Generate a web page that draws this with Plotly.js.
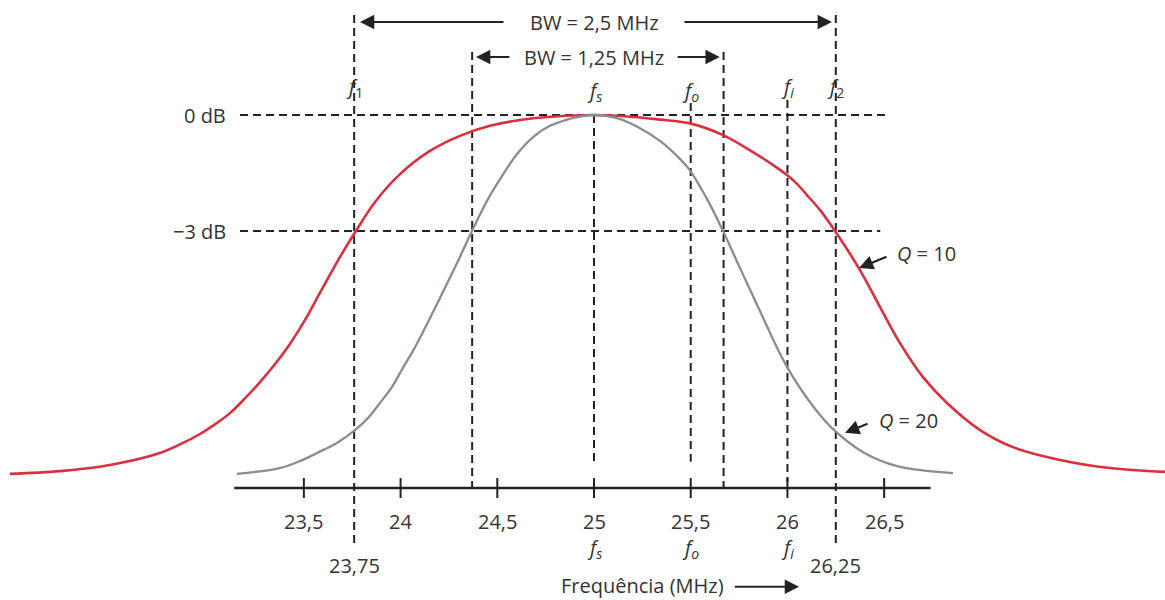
<!DOCTYPE html>
<html>
<head>
<meta charset="utf-8">
<script src="https://cdn.plot.ly/plotly-3.0.1.min.js"></script>
<style>html,body{margin:0;padding:0;background:#fff;}#chart{width:1165px;height:600px;}</style>
</head>
<body>
<div id="chart"></div>
<script>
// Curve Q = 10 (red): frequency (MHz) and relative level (dB)
const q10Freq = [21.980, 22.239, 22.497, 22.756, 22.859, 22.963, 23.040, 23.118, 23.195, 23.273, 23.351, 23.428, 23.506, 23.583, 23.687, 23.769, 23.868, 23.997, 24.152, 24.307, 24.462, 24.617, 24.798, 25.000, 25.202, 25.341, 25.491, 25.667, 25.822, 25.962, 26.039, 26.101, 26.169, 26.246, 26.375, 26.479, 26.582, 26.701, 26.825, 26.996, 27.166, 27.410, 27.668, 27.952];
const q10Db   = [-9.28, -9.21, -9.05, -8.74, -8.52, -8.25, -8.00, -7.71, -7.33, -6.91, -6.44, -5.92, -5.30, -4.60, -3.67, -3.00, -2.25, -1.53, -0.93, -0.54, -0.28, -0.13, -0.04, 0.00, -0.05, -0.12, -0.21, -0.52, -0.96, -1.42, -1.73, -2.07, -2.46, -3.00, -4.01, -4.97, -5.90, -6.78, -7.45, -8.15, -8.59, -8.92, -9.13, -9.23];
// Curve Q = 20 (gray)
const q20Freq = [23.154, 23.376, 23.480, 23.568, 23.671, 23.764, 23.831, 23.893, 23.956, 24.012, 24.064, 24.116, 24.204, 24.292, 24.369, 24.447, 24.514, 24.602, 24.685, 24.772, 24.860, 24.928, 25.000, 25.119, 25.238, 25.341, 25.429, 25.491, 25.584, 25.667, 25.755, 25.858, 25.962, 26.029, 26.101, 26.169, 26.246, 26.391, 26.567, 26.856];
const q20Db   = [-9.28, -9.13, -8.95, -8.74, -8.48, -8.15, -7.84, -7.45, -7.03, -6.54, -6.10, -5.61, -4.73, -3.83, -3.00, -2.22, -1.66, -1.01, -0.57, -0.28, -0.12, -0.04, 0.00, -0.08, -0.34, -0.67, -1.06, -1.40, -2.17, -3.00, -3.96, -5.07, -6.18, -6.78, -7.32, -7.76, -8.17, -8.72, -9.08, -9.26];

// Axis ticks
const tickVals = [23.5, 24, 24.5, 25, 25.5, 26, 26.5];
const tickText = ["23,5", "24", "24,5", "25", "25,5", "26", "26,5"];
// Frequency marks
const markFreq = [25, 25.5, 26];
const markText = ["<i>f<sub>s</sub></i>", "<i>f<sub>o</sub></i>", "<i>f<sub>i</sub></i>"];
const edgeFreq = [23.76, 26.25];
const edgeText = ["23,75", "26,25"];
const edgeNames = ["<i>f</i><sub>1</sub>", "<i>f</i><sub>2</sub>"];
const bw20Edges = [24.37, 25.67];
// Level lines
const levels = [0, -3];
const levelText = ["0 dB", "\u22123 dB"];
const bwText = ["BW = 2,5 MHz", "BW = 1,25 MHz"];
const qText = ["<i>Q</i> = 10", "<i>Q</i> = 20"];
const xTitle = "Frequência (MHz)";

const FONT = "Open Sans, Noto Sans, sans-serif";
const TXT = "#333";
const DASH = "#222";
const FS = 20;
const Y_AXIS = -9.647;

const traces = [
  {x: q10Freq, y: q10Db, mode: "lines", line: {color: "#d9303f", width: 2.6, shape: "spline", smoothing: 1}, hoverinfo: "skip"},
  {x: q20Freq, y: q20Db, mode: "lines", line: {color: "#878c98", width: 2.3, shape: "spline", smoothing: 1}, hoverinfo: "skip"}
];

const shapes = [];
const annotations = [];
const dashLine = {color: DASH, width: 2, dash: "8px,5px"};
const font = {family: FONT, size: FS, color: TXT};

// horizontal level lines
shapes.push({type: "line", xref: "x", yref: "y", x0: 23.17, x1: 26.505, y0: levels[0], y1: levels[0], line: dashLine, layer: "below"});
shapes.push({type: "line", xref: "x", yref: "y", x0: 23.17, x1: 26.48, y0: levels[1], y1: levels[1], line: dashLine, layer: "below"});
levels.forEach((lv, i) => annotations.push({x: 23.108, y: lv, xref: "x", yref: "y", text: levelText[i], showarrow: false, xanchor: "right", yanchor: "middle", font: font}));

// vertical dashed lines
edgeFreq.forEach(f => shapes.push({type: "line", xref: "x", yref: "y", x0: f, x1: f, y0: 2.586, y1: -11.07, line: dashLine, layer: "below"}));
bw20Edges.forEach(f => shapes.push({type: "line", xref: "x", yref: "y", x0: f, x1: f, y0: 1.63, y1: Y_AXIS, line: dashLine, layer: "below"}));
shapes.push({type: "line", xref: "x", yref: "y", x0: markFreq[0], x1: markFreq[0], y0: 0, y1: -9.05, line: dashLine, layer: "below"});
shapes.push({type: "line", xref: "x", yref: "y", x0: markFreq[1], x1: markFreq[1], y0: 0.31, y1: -8.97, line: dashLine, layer: "below"});
shapes.push({type: "line", xref: "x", yref: "y", x0: markFreq[2], x1: markFreq[2], y0: 0.39, y1: -9.49, line: dashLine, layer: "below"});

// x axis line + ticks
shapes.push({type: "line", xref: "x", yref: "y", x0: 23.14, x1: 26.74, y0: Y_AXIS, y1: Y_AXIS, line: {color: "#222", width: 2.5}});
tickVals.forEach(t => shapes.push({type: "line", xref: "x", yref: "y", x0: t, x1: t, y0: -9.39, y1: -9.905, line: {color: "#222", width: 2}}));
tickVals.forEach((t, i) => annotations.push({x: t, y: -10.5, xref: "x", yref: "y", text: tickText[i], showarrow: false, font: font}));
markFreq.forEach((f, i) => annotations.push({x: f, y: -11.2, xref: "x", yref: "y", text: markText[i], showarrow: false, font: font}));
edgeFreq.forEach((f, i) => annotations.push({x: f, y: -11.66, xref: "x", yref: "y", text: edgeText[i], showarrow: false, font: font}));

// top labels f1, fs, fo, fi, f2
edgeFreq.forEach((f, i) => annotations.push({x: f, y: 0.72, xref: "x", yref: "y", text: edgeNames[i], showarrow: false, font: font}));
markFreq.forEach((f, i) => annotations.push({x: f, y: i === 2 ? 0.72 : 0.62, xref: "x", yref: "y", text: markText[i], showarrow: false, font: font}));

// bandwidth labels and arrows
annotations.push({x: 25.0, y: 2.405, xref: "x", yref: "y", text: bwText[0], showarrow: false, font: font});
annotations.push({x: 25.0, y: 1.5, xref: "x", yref: "y", text: bwText[1], showarrow: false, font: font});
function arrow(x, y, ax, ay) {
  annotations.push({x: x, y: y, ax: ax, ay: ay, xref: "x", yref: "y", axref: "x", ayref: "y", text: "", showarrow: true, arrowhead: 2, arrowsize: 1.3, arrowwidth: 2.2, arrowcolor: "#222"});
}
arrow(23.79, 2.405, 24.54, 2.405);
arrow(26.23, 2.405, 25.46, 2.405);
arrow(24.39, 1.5, 24.57, 1.5);
arrow(25.65, 1.5, 25.425, 1.5);

// Q labels
annotations.push({x: 26.555, y: -3.57, xref: "x", yref: "y", text: qText[0], showarrow: false, xanchor: "left", font: font});
arrow(26.37, -3.96, 26.52, -3.65);
annotations.push({x: 26.462, y: -7.89, xref: "x", yref: "y", text: qText[1], showarrow: false, xanchor: "left", font: font});
arrow(26.298, -8.22, 26.422, -7.97);

// axis title
annotations.push({x: 25.253, y: -12.17, xref: "x", yref: "y", text: xTitle, showarrow: false, font: font});
arrow(26.06, -12.2, 25.72, -12.2);

const layout = {
  width: 1165, height: 600,
  margin: {l: 0, r: 0, t: 0, b: 0},
  paper_bgcolor: "#ffffff", plot_bgcolor: "#ffffff",
  showlegend: false,
  xaxis: {range: [21.929, 27.952], visible: false, fixedrange: true},
  yaxis: {range: [-12.543, 2.974], visible: false, fixedrange: true},
  shapes: shapes,
  annotations: annotations
};

Plotly.newPlot("chart", traces, layout, {staticPlot: true, displayModeBar: false});
</script>
</body>
</html>
